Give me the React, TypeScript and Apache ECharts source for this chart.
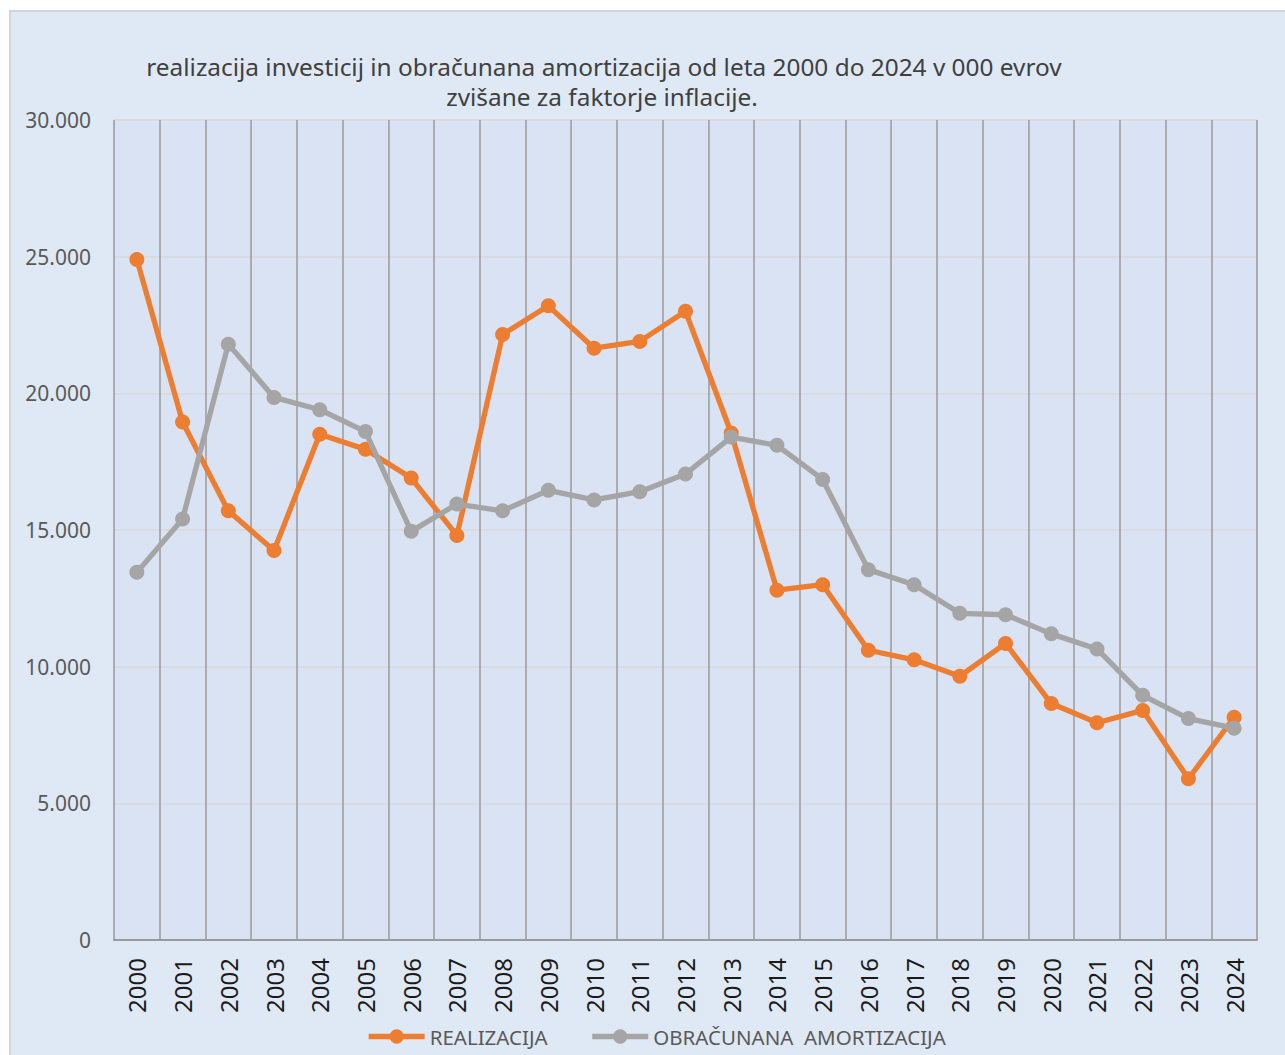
import React, { useEffect, useRef } from "react";
import * as echarts from "echarts";

const years = [
  "2000", "2001", "2002", "2003", "2004", "2005", "2006", "2007", "2008", "2009",
  "2010", "2011", "2012", "2013", "2014", "2015", "2016", "2017", "2018", "2019",
  "2020", "2021", "2022", "2023", "2024",
];

const realizacija = [
  24900, 18950, 15700, 14250, 18500, 17950, 16900, 14800, 22150, 23200,
  21650, 21900, 23000, 18550, 12800, 13000, 10600, 10250, 9650, 10850,
  8650, 7950, 8400, 5900, 8150,
];

const amortizacija = [
  13450, 15400, 21800, 19850, 19400, 18600, 14950, 15950, 15700, 16450,
  16100, 16400, 17050, 18400, 18100, 16850, 13550, 13000, 11950, 11900,
  11200, 10650, 8950, 8100, 7750,
];

const titleLines = [
  "realizacija investicij in obračunana amortizacija od leta 2000 do 2024 v 000 evrov",
  "zvišane za faktorje inflacije.",
];

const seriesNames = ["REALIZACIJA", "OBRAČUNANA  AMORTIZACIJA"];

const FONT = "'Noto Sans', 'Open Sans', sans-serif";

function fmt(v: number): string {
  return String(v).replace(/\B(?=(\d{3})+(?!\d))/g, ".");
}

export default function App() {
  const ref = useRef<HTMLDivElement>(null);

  useEffect(() => {
    if (!ref.current) return;
    const chart = echarts.init(ref.current, null, { renderer: "svg" });
    chart.setOption({
      animation: false,
      backgroundColor: "#ffffff",
      textStyle: { fontFamily: FONT },
      graphic: [
        {
          type: "rect",
          z: -10,
          silent: true,
          shape: { x: 10, y: 11, width: 1290, height: 1060 },
          style: { fill: "#dfe9f5", stroke: "#d4d4d4", lineWidth: 2 },
        },
        {
          type: "text",
          x: 604,
          y: 66,
          style: {
            text: titleLines[0],
            textAlign: "center",
            textVerticalAlign: "middle",
            fontSize: 24.4,
            fontFamily: FONT,
            fill: "#404040",
          },
        },
        {
          type: "text",
          x: 602,
          y: 96,
          style: {
            text: titleLines[1],
            textAlign: "center",
            textVerticalAlign: "middle",
            fontSize: 24.4,
            fontFamily: FONT,
            fill: "#404040",
          },
        },
      ],
      grid: {
        left: 114,
        right: 28,
        top: 120,
        bottom: 115,
        show: true,
        backgroundColor: "#d9e3f3",
        borderWidth: 0,
      },
      legend: {
        bottom: 3,
        left: 361,
        itemWidth: 56,
        itemHeight: 18,
        itemGap: 42,
        lineStyle: { width: 5.3 },
        textStyle: { fontSize: 20.5, color: "#595959", fontFamily: FONT },
        data: seriesNames,
      },
      xAxis: {
        type: "category",
        data: years,
        boundaryGap: true,
        axisLine: { show: true, lineStyle: { color: "#9a9a9a", width: 2 } },
        axisTick: { show: false },
        axisLabel: {
          interval: 0,
          rotate: 90,
          margin: 18,
          fontSize: 24,
          color: "#1a1a1a",
          fontFamily: FONT,
        },
        splitLine: {
          show: true,
          interval: 0,
          lineStyle: { color: "#9a9a9a", width: 1.5 },
        },
      },
      yAxis: {
        type: "value",
        min: 0,
        max: 30000,
        interval: 5000,
        axisLine: { show: false },
        axisTick: { show: false },
        axisLabel: {
          margin: 23,
          fontSize: 21,
          color: "#595959",
          fontFamily: FONT,
          formatter: (v: number) => fmt(v),
        },
        splitLine: { show: true, lineStyle: { color: "#d9d9d9", width: 1.5 } },
      },
      series: [
        {
          name: seriesNames[0],
          type: "line",
          data: realizacija,
          symbol: "circle",
          symbolSize: 15,
          itemStyle: { color: "#ed7d31" },
          lineStyle: { color: "#ed7d31", width: 5.3 },
          z: 3,
        },
        {
          name: seriesNames[1],
          type: "line",
          data: amortizacija,
          symbol: "circle",
          symbolSize: 15,
          itemStyle: { color: "#a5a5a5" },
          lineStyle: { color: "#a5a5a5", width: 5.3 },
          z: 4,
        },
      ],
    });
    return () => chart.dispose();
  }, []);

  return (
    <div
      ref={ref}
      style={{ position: "absolute", left: 0, top: 0, width: 1285, height: 1055 }}
    />
  );
}
